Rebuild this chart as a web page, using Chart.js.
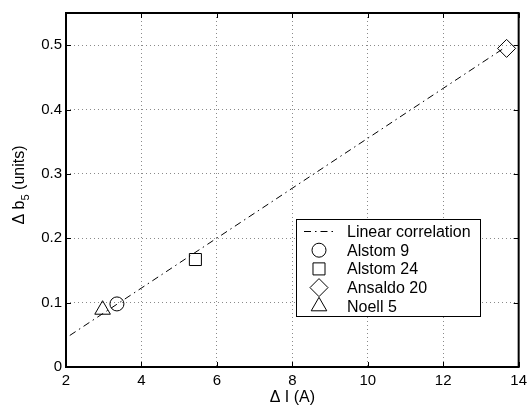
<!DOCTYPE html>
<html>
<head>
<meta charset="utf-8">
<script src="https://cdn.jsdelivr.net/npm/chart.js@4/dist/chart.umd.min.js"></script>
<style>
  html, body { margin: 0; padding: 0; background: #fff; }
  #wrap { width: 532px; height: 407px; position: relative; }
</style>
</head>
<body>
<div id="wrap"><canvas id="chart"></canvas></div>
<script>
// data
const seriesNames = ['Linear correlation', 'Alstom 9', 'Alstom 24', 'Ansaldo 20', 'Noell 5'];
const fitX = [2.1, 13.6];
const fitY = [0.049, 0.495];
const alstom9X = [3.35];
const alstom9Y = [0.098];
const alstom24X = [5.43];
const alstom24Y = [0.167];
const ansaldo20X = [13.68];
const ansaldo20Y = [0.495];
const noell5X = [2.97];
const noell5Y = [0.089];
const xTicks = [2, 4, 6, 8, 10, 12, 14];
const yTicks = [0, 0.1, 0.2, 0.3, 0.4, 0.5];

const FONT = '"Liberation Sans", Arial, Helvetica, sans-serif';
const pts = (xs, ys) => xs.map((x, i) => ({ x: x, y: ys[i] }));

const markerStyle = {
  'Alstom 9': { pointStyle: 'circle', radius: 7 },
  'Alstom 24': { pointStyle: 'rect', radius: 8.5 },
  'Ansaldo 20': { pointStyle: 'rectRot', radius: 9 },
  'Noell 5': { pointStyle: 'triangle', radius: 9 }
};

function markerSet(label, xs, ys) {
  const m = markerStyle[label];
  return {
    label: label,
    data: pts(xs, ys),
    showLine: false,
    pointStyle: m.pointStyle,
    pointRadius: m.radius,
    pointHoverRadius: m.radius,
    pointBorderColor: '#000',
    pointBackgroundColor: 'rgba(0,0,0,0)',
    pointBorderWidth: 1
  };
}

// axes box, inner ticks, y title with subscript, legend box
const matlabAxes = {
  id: 'matlabAxes',
  afterDraw(chart) {
    const ctx = chart.ctx;
    const a = chart.chartArea;
    const xs = chart.scales.x, ys = chart.scales.y;
    ctx.save();
    ctx.strokeStyle = '#000';
    ctx.lineWidth = 1;
    ctx.setLineDash([]);
    ctx.beginPath();
    xTicks.forEach(t => {
      const px = Math.round(xs.getPixelForValue(t)) + 0.5;
      ctx.moveTo(px, a.bottom); ctx.lineTo(px, a.bottom - 5);
      ctx.moveTo(px, a.top); ctx.lineTo(px, a.top + 5);
    });
    yTicks.forEach(t => {
      const py = Math.round(ys.getPixelForValue(t)) + 0.5;
      ctx.moveTo(a.left, py); ctx.lineTo(a.left + 5, py);
      ctx.moveTo(a.right, py); ctx.lineTo(a.right - 5, py);
    });
    ctx.stroke();
    ctx.lineWidth = 2;
    ctx.strokeRect(a.left, a.top, a.right - a.left, a.bottom - a.top);

    // y axis title
    ctx.translate(20, 185);
    ctx.rotate(-Math.PI / 2);
    ctx.fillStyle = '#000';
    ctx.textBaseline = 'middle';
    const big = '16px ' + FONT, small = '11px ' + FONT;
    ctx.font = big;
    const p1 = '\u0394 b', p3 = ' (units)';
    ctx.font = small;
    const w2 = ctx.measureText('5').width;
    ctx.font = big;
    const total = ctx.measureText(p1).width + w2 + ctx.measureText(p3).width;
    let x0 = -total / 2;
    ctx.textAlign = 'left';
    ctx.fillText(p1, x0, 0);
    x0 += ctx.measureText(p1).width;
    ctx.font = small;
    ctx.fillText('5', x0, 6);
    x0 += w2;
    ctx.font = big;
    ctx.fillText(p3, x0, 0);
    ctx.restore();

    // legend
    ctx.save();
    const lx = 296, ly = 219, lw = 184, lh = 97;
    ctx.fillStyle = '#fff';
    ctx.fillRect(lx, ly, lw, lh);
    ctx.strokeStyle = '#000';
    ctx.lineWidth = 1;
    ctx.strokeRect(lx + 0.5, ly + 0.5, lw, lh);
    ctx.font = '16px ' + FONT;
    ctx.textBaseline = 'middle';
    ctx.textAlign = 'left';
    chart.data.datasets.forEach((ds, i) => {
      const cy = ly + 12.5 + i * 18.7;
      if (ds.showLine) {
        ctx.save();
        ctx.setLineDash(ds.borderDash);
        ctx.beginPath();
        ctx.moveTo(lx + 8, cy); ctx.lineTo(lx + 37, cy);
        ctx.stroke();
        ctx.restore();
      } else {
        ctx.save();
        ctx.strokeStyle = '#000';
        ctx.fillStyle = 'rgba(0,0,0,0)';
        ctx.lineWidth = 1;
        Chart.helpers.drawPoint(ctx, { pointStyle: ds.pointStyle, radius: ds.pointRadius, borderWidth: 1 }, lx + 23, cy);
        ctx.restore();
      }
      ctx.fillStyle = '#000';
      ctx.fillText(ds.label, lx + 51, cy + 1);
    });
    ctx.restore();
  }
};

new Chart(document.getElementById('chart'), {
  type: 'scatter',
  data: {
    datasets: [
      {
        label: seriesNames[0],
        data: pts(fitX, fitY),
        showLine: true,
        borderColor: '#000',
        borderWidth: 1,
        borderDash: [7, 4, 1.5, 4],
        pointRadius: 0,
        pointHoverRadius: 0,
        fill: false
      },
      markerSet(seriesNames[1], alstom9X, alstom9Y),
      markerSet(seriesNames[2], alstom24X, alstom24Y),
      markerSet(seriesNames[3], ansaldo20X, ansaldo20Y),
      markerSet(seriesNames[4], noell5X, noell5Y)
    ]
  },
  options: {
    responsive: true,
    maintainAspectRatio: false,
    animation: false,
    events: [],
    layout: { padding: { top: 11, right: 10, left: 0, bottom: 0 } },
    plugins: {
      legend: { display: false },
      tooltip: { enabled: false }
    },
    scales: {
      x: {
        type: 'linear',
        min: 2,
        max: 14,
        afterFit: s => { s.height = 40; },
        afterBuildTicks: s => { s.ticks = xTicks.map(v => ({ value: v })); },
        ticks: { color: '#000', font: { family: FONT, size: 15 }, padding: 5, maxRotation: 0 },
        grid: { color: '#8a8a8a', lineWidth: 1, drawTicks: false },
        border: { display: false, dash: [1, 3] },
        title: { display: true, text: '\u0394 I (A)', color: '#000', font: { family: FONT, size: 16 }, padding: { top: 5, bottom: 0 } }
      },
      y: {
        type: 'linear',
        min: 0,
        max: 0.55,
        afterFit: s => { s.width = 66; },
        afterBuildTicks: s => { s.ticks = yTicks.map(v => ({ value: v })); },
        ticks: { color: '#000', font: { family: FONT, size: 15 }, padding: 4, callback: v => String(Math.round(v * 10) / 10) },
        grid: { color: '#8a8a8a', lineWidth: 1, drawTicks: false },
        border: { display: false, dash: [1, 3] }
      }
    }
  },
  plugins: [matlabAxes]
});
</script>
</body>
</html>
